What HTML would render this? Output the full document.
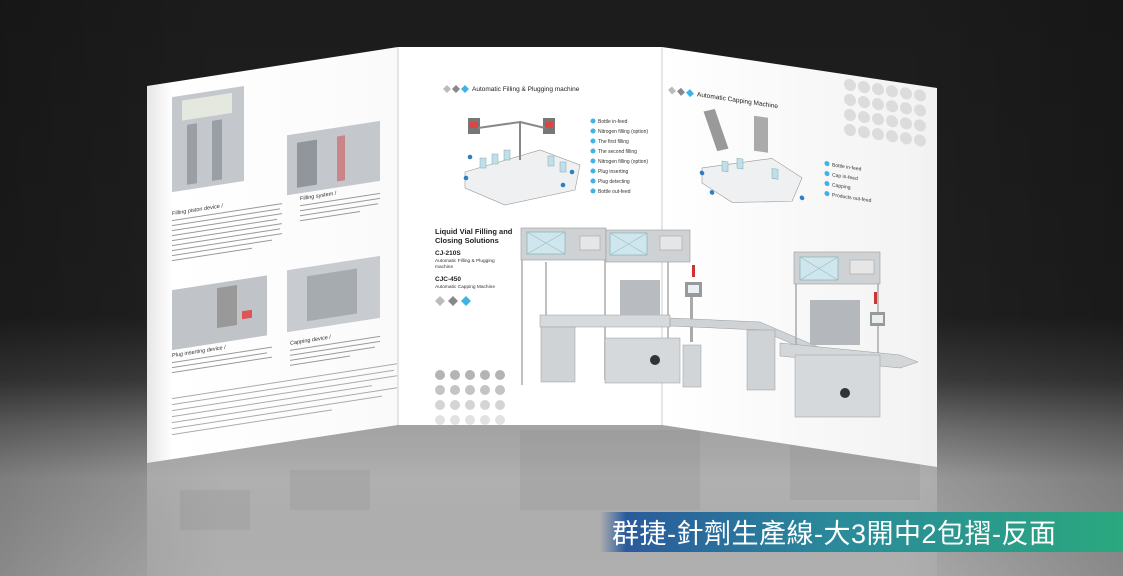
<!DOCTYPE html>
<html><head><meta charset="utf-8"><style>
html,body{margin:0;padding:0;width:1123px;height:576px;overflow:hidden;background:#222}
svg{display:block}
text{font-family:"Liberation Sans",sans-serif}
</style></head><body>
<svg width="1123" height="576" viewBox="0 0 1123 576" xmlns="http://www.w3.org/2000/svg">
<defs>
<linearGradient id="bg" x1="0" y1="0" x2="0" y2="1">
<stop offset="0" stop-color="#1c1c1c"/><stop offset="0.55" stop-color="#202020"/>
<stop offset="0.66" stop-color="#3c3c3c"/><stop offset="0.74" stop-color="#6e6e6e"/><stop offset="0.83" stop-color="#9c9c9c"/><stop offset="1" stop-color="#ababab"/>
</linearGradient>
<linearGradient id="side" x1="0" y1="0" x2="1" y2="0">
<stop offset="0" stop-color="#000" stop-opacity="0.2"/><stop offset="0.2" stop-color="#000" stop-opacity="0"/>
<stop offset="0.8" stop-color="#000" stop-opacity="0"/><stop offset="1" stop-color="#000" stop-opacity="0.2"/>
</linearGradient>
<linearGradient id="refl" x1="0" y1="0" x2="0" y2="1">
<stop offset="0" stop-color="#d0d0d0" stop-opacity="0.55"/><stop offset="1" stop-color="#c0c0c0" stop-opacity="0.2"/>
</linearGradient>
<linearGradient id="ban" x1="0" y1="0" x2="1" y2="0">
<stop offset="0" stop-color="#2a5aa0" stop-opacity="0"/><stop offset="0.05" stop-color="#2a5a9c"/>
<stop offset="0.45" stop-color="#2a8a9a"/><stop offset="1" stop-color="#2aa87e"/>
</linearGradient>
<linearGradient id="lp" x1="0" y1="0" x2="1" y2="0">
<stop offset="0" stop-color="#e6e6e6"/><stop offset="0.1" stop-color="#fff"/><stop offset="1" stop-color="#fafafa"/>
</linearGradient>
<linearGradient id="rp" x1="0" y1="0" x2="1" y2="0">
<stop offset="0" stop-color="#fff"/><stop offset="1" stop-color="#f2f2f2"/>
</linearGradient>
</defs>
<rect width="1123" height="576" fill="url(#bg)"/>
<rect width="1123" height="576" fill="url(#side)"/>

<!-- reflections -->
<polygon points="147,463 398,425 662,425 937,467 937,576 147,576" fill="url(#refl)"/>
<g opacity="0.15" fill="#777">
<rect x="520" y="430" width="180" height="80"/><rect x="790" y="440" width="130" height="60"/>
<rect x="180" y="490" width="70" height="40"/><rect x="290" y="470" width="80" height="40"/>
</g>

<!-- panels -->
<polygon points="147,86 398,47 398,425 147,463" fill="url(#lp)"/>
<polygon points="398,47 662,47 662,425 398,425" fill="#fff"/>
<polygon points="662,47 937,88 937,467 662,425" fill="url(#rp)"/>
<line x1="398" y1="47" x2="398" y2="425" stroke="#ccc" stroke-width="1"/>
<line x1="662" y1="47" x2="662" y2="425" stroke="#ccc" stroke-width="1"/>

<!-- left panel content -->
<g transform="matrix(1,-0.155,0,1,147,86)">
<rect x="25" y="15" width="72" height="95" fill="#c4c8cc"/>
<rect x="35" y="20" width="50" height="20" fill="#e4e8de"/>
<rect x="40" y="45" width="10" height="60" fill="#9a9fa5"/><rect x="65" y="45" width="10" height="60" fill="#9a9fa5"/>
<rect x="140" y="71" width="93" height="60" fill="#c4c8cc"/>
<rect x="150" y="80" width="20" height="45" fill="#90969b"/><rect x="190" y="80" width="8" height="45" fill="#c44" opacity=".5"/>
<text x="25" y="133" font-size="5.5" fill="#333">Filling piston device /</text>
<g fill="#999"><rect x="25" y="138" width="110" height="1"/><rect x="25" y="143" width="108" height="1"/><rect x="25" y="148" width="110" height="1"/><rect x="25" y="153" width="105" height="1"/><rect x="25" y="158" width="110" height="1"/><rect x="25" y="163" width="108" height="1"/><rect x="25" y="168" width="110" height="1"/><rect x="25" y="173" width="100" height="1"/><rect x="25" y="178" width="80" height="1"/></g>
<text x="153" y="138" font-size="5.5" fill="#333">Filling system /</text>
<g fill="#999"><rect x="153" y="143" width="80" height="1"/><rect x="153" y="148" width="80" height="1"/><rect x="153" y="153" width="78" height="1"/><rect x="153" y="158" width="60" height="1"/></g>
<rect x="25" y="208" width="95" height="60" fill="#c0c4c8"/>
<rect x="70" y="213" width="20" height="40" fill="#999"/><rect x="95" y="240" width="10" height="8" fill="#d55"/>
<rect x="140" y="206" width="93" height="62" fill="#c8ccd0"/>
<rect x="160" y="215" width="50" height="45" fill="#a6abb0"/>
<text x="25" y="275" font-size="5.5" fill="#333">Plug inserting device /</text>
<g fill="#999"><rect x="25" y="280" width="100" height="1"/><rect x="25" y="285" width="95" height="1"/><rect x="25" y="290" width="100" height="1"/></g>
<text x="143" y="281" font-size="5.5" fill="#333">Capping device /</text>
<g fill="#999"><rect x="143" y="286" width="90" height="1"/><rect x="143" y="291" width="90" height="1"/><rect x="143" y="296" width="85" height="1"/><rect x="143" y="301" width="60" height="1"/></g>
<g fill="#aaa"><rect x="25" y="316" width="225" height="1"/><rect x="25" y="322" width="222" height="1"/><rect x="25" y="328" width="225" height="1"/><rect x="25" y="334" width="200" height="1"/><rect x="25" y="340" width="225" height="1"/><rect x="25" y="346" width="210" height="1"/><rect x="25" y="352" width="160" height="1"/></g>
</g>

<!-- middle panel content -->
<g>
<polygon points="447,85 451,89 447,93 443,89" fill="#bbb"/>
<polygon points="456,85 460,89 456,93 452,89" fill="#888"/>
<polygon points="465,85 469,89 465,93 461,89" fill="#3fb3e6"/>
<text x="472" y="91" font-size="6.5" fill="#222">Automatic Filling &amp; Plugging machine</text>
<polygon points="465,172 540,150 580,165 575,190 505,205 465,188" fill="#eef0f2" stroke="#999" stroke-width="0.6"/>
<rect x="468" y="118" width="12" height="16" fill="#777"/><rect x="470" y="122" width="8" height="6" fill="#d44"/>
<rect x="543" y="118" width="12" height="16" fill="#777"/><rect x="545" y="122" width="8" height="6" fill="#d44"/>
<path d="M478,128 L520,122 L520,160 M520,122 L545,128" stroke="#888" stroke-width="2" fill="none"/>
<g fill="#bfe0ea" stroke="#8aa" stroke-width=".5"><rect x="480" y="158" width="6" height="10"/><rect x="492" y="154" width="6" height="10"/><rect x="504" y="150" width="6" height="10"/><rect x="548" y="156" width="6" height="10"/><rect x="560" y="162" width="6" height="10"/></g>
<g fill="#2d7fc1"><circle cx="466" cy="178" r="2.3"/><circle cx="470" cy="157" r="2.3"/><circle cx="563" cy="185" r="2.3"/><circle cx="572" cy="172" r="2.3"/></g>
<g font-size="5" fill="#333">
<circle cx="593" cy="121" r="2.5" fill="#3fb3e6"/><text x="598" y="123">Bottle in-feed</text>
<circle cx="593" cy="131" r="2.5" fill="#3fb3e6"/><text x="598" y="133">Nitrogen filling (option)</text>
<circle cx="593" cy="141" r="2.5" fill="#3fb3e6"/><text x="598" y="143">The first filling</text>
<circle cx="593" cy="151" r="2.5" fill="#3fb3e6"/><text x="598" y="153">The second filling</text>
<circle cx="593" cy="161" r="2.5" fill="#3fb3e6"/><text x="598" y="163">Nitrogen filling (option)</text>
<circle cx="593" cy="171" r="2.5" fill="#3fb3e6"/><text x="598" y="173">Plug inserting</text>
<circle cx="593" cy="181" r="2.5" fill="#3fb3e6"/><text x="598" y="183">Plug detecting</text>
<circle cx="593" cy="191" r="2.5" fill="#3fb3e6"/><text x="598" y="193">Bottle out-feed</text>
</g>
<text x="435" y="234" font-size="7.5" font-weight="bold" fill="#222">Liquid Vial Filling and</text>
<text x="435" y="243" font-size="7.5" font-weight="bold" fill="#222">Closing Solutions</text>
<text x="435" y="255" font-size="6.5" font-weight="bold" fill="#222">CJ-210S</text>
<text x="435" y="262" font-size="4.8" fill="#333">Automatic Filling &amp; Plugging</text>
<text x="435" y="268" font-size="4.8" fill="#333">machine</text>
<text x="435" y="281" font-size="6.5" font-weight="bold" fill="#222">CJC-450</text>
<text x="435" y="288" font-size="4.8" fill="#333">Automatic Capping Machine</text>
<polygon points="440,296 445,301 440,306 435,301" fill="#bbb"/>
<polygon points="453,296 458,301 453,306 448,301" fill="#888"/>
<polygon points="466,296 471,301 466,306 461,301" fill="#3fb3e6"/>
<g fill="#b4b4b4">
<circle cx="440" cy="375" r="5"/><circle cx="455" cy="375" r="5"/><circle cx="470" cy="375" r="5"/><circle cx="485" cy="375" r="5"/><circle cx="500" cy="375" r="5"/>
</g>
<g fill="#c4c4c4">
<circle cx="440" cy="390" r="5"/><circle cx="455" cy="390" r="5"/><circle cx="470" cy="390" r="5"/><circle cx="485" cy="390" r="5"/><circle cx="500" cy="390" r="5"/>
</g>
<g fill="#d4d4d4">
<circle cx="440" cy="405" r="5"/><circle cx="455" cy="405" r="5"/><circle cx="470" cy="405" r="5"/><circle cx="485" cy="405" r="5"/><circle cx="500" cy="405" r="5"/>
</g>
<g fill="#e2e2e2">
<circle cx="440" cy="420" r="5"/><circle cx="455" cy="420" r="5"/><circle cx="470" cy="420" r="5"/><circle cx="485" cy="420" r="5"/><circle cx="500" cy="420" r="5"/>
</g>
</g>

<!-- machines -->
<g>
<rect x="521" y="228" width="85" height="32" fill="#cfd2d5" stroke="#999" stroke-width=".6"/>
<rect x="527" y="232" width="38" height="22" fill="#cfe6ef" stroke="#7aa" stroke-width=".6"/>
<path d="M527,232 L565,254 M565,232 L527,254" stroke="#9bb" stroke-width=".6"/>
<rect x="580" y="236" width="20" height="14" fill="#e6e6e6" stroke="#999" stroke-width=".5"/>
<rect x="606" y="230" width="84" height="32" fill="#cfd2d5" stroke="#999" stroke-width=".6"/>
<rect x="610" y="233" width="37" height="22" fill="#cfe6ef" stroke="#7aa" stroke-width=".6"/>
<path d="M610,233 L647,255 M647,233 L610,255" stroke="#9bb" stroke-width=".6"/>
<rect x="660" y="236" width="22" height="14" fill="#e6e6e6" stroke="#999" stroke-width=".5"/>
<g stroke="#aaa" stroke-width="1.5"><line x1="522" y1="260" x2="522" y2="385"/><line x1="546" y1="262" x2="546" y2="370"/><line x1="605" y1="260" x2="605" y2="380"/><line x1="668" y1="262" x2="668" y2="345"/></g>
<rect x="540" y="315" width="130" height="12" fill="#d7dadc" stroke="#999" stroke-width=".5"/>
<rect x="541" y="327" width="34" height="55" fill="#d0d3d6" stroke="#999" stroke-width=".5"/>
<rect x="605" y="338" width="75" height="45" fill="#d6d9dc" stroke="#999" stroke-width=".5"/>
<circle cx="655" cy="360" r="5" fill="#333"/>
<rect x="620" y="280" width="40" height="35" fill="#b8bcc0"/>
<rect x="685" y="282" width="17" height="15" fill="#999"/><rect x="688" y="285" width="11" height="8" fill="#e8f0f4"/>
<rect x="692" y="265" width="3" height="12" fill="#c33"/>
<rect x="690" y="297" width="3" height="45" fill="#aaa"/>
<rect x="683" y="345" width="18" height="42" fill="#d2d5d8" stroke="#999" stroke-width=".5"/>
<polygon points="670,318 760,322 830,352 830,360 760,330 670,326" fill="#cfd3d6" stroke="#999" stroke-width=".5"/>
<rect x="747" y="330" width="28" height="60" fill="#d0d3d6" stroke="#999" stroke-width=".5"/>
<rect x="794" y="252" width="86" height="32" fill="#cfd2d5" stroke="#999" stroke-width=".6"/>
<rect x="800" y="257" width="38" height="23" fill="#cfe6ef" stroke="#7aa" stroke-width=".6"/>
<path d="M800,257 L838,280 M838,257 L800,280" stroke="#9bb" stroke-width=".6"/>
<rect x="850" y="260" width="24" height="14" fill="#e6e6e6" stroke="#999" stroke-width=".5"/>
<g stroke="#aaa" stroke-width="1.5"><line x1="796" y1="284" x2="796" y2="370"/><line x1="878" y1="284" x2="878" y2="370"/></g>
<rect x="810" y="300" width="50" height="45" fill="#b4b8bc"/>
<rect x="870" y="312" width="15" height="14" fill="#999"/><rect x="872" y="315" width="11" height="8" fill="#e8f0f4"/>
<rect x="874" y="292" width="3" height="12" fill="#c33"/>
<polygon points="780,343 900,355 918,362 900,368 780,356" fill="#d4d7da" stroke="#999" stroke-width=".5"/>
<rect x="795" y="355" width="85" height="62" fill="#d6d9dc" stroke="#999" stroke-width=".5"/>
<circle cx="845" cy="393" r="5" fill="#333"/>
</g>

<!-- right panel content -->
<g transform="matrix(1,0.149,0,1,662,47)">
<polygon points="10,38 14,42 10,46 6,42" fill="#bbb"/>
<polygon points="19,38 23,42 19,46 15,42" fill="#888"/>
<polygon points="28,38 32,42 28,46 24,42" fill="#3fb3e6"/>
<text x="35" y="44" font-size="6.5" fill="#222">Automatic Capping Machine</text>
<g fill="#dcdcdc">
<circle cx="188" cy="10" r="6"/><circle cx="202" cy="10" r="6"/><circle cx="216" cy="10" r="6"/><circle cx="230" cy="10" r="6"/><circle cx="244" cy="10" r="6"/><circle cx="258" cy="10" r="6"/>
<circle cx="188" cy="25" r="6"/><circle cx="202" cy="25" r="6"/><circle cx="216" cy="25" r="6"/><circle cx="230" cy="25" r="6"/><circle cx="244" cy="25" r="6"/><circle cx="258" cy="25" r="6"/>
<circle cx="188" cy="40" r="6"/><circle cx="202" cy="40" r="6"/><circle cx="216" cy="40" r="6"/><circle cx="230" cy="40" r="6"/><circle cx="244" cy="40" r="6"/><circle cx="258" cy="40" r="6"/>
<circle cx="188" cy="55" r="6"/><circle cx="202" cy="55" r="6"/><circle cx="216" cy="55" r="6"/><circle cx="230" cy="55" r="6"/><circle cx="244" cy="55" r="6"/><circle cx="258" cy="55" r="6"/>
</g>
<rect x="48" y="55" width="12" height="40" fill="#999" transform="rotate(-20 54 75)"/>
<rect x="92" y="55" width="14" height="35" fill="#aaa"/>
<polygon points="40,115 110,95 140,110 130,135 70,145 40,130" fill="#eef0f2" stroke="#999" stroke-width=".6"/>
<g fill="#bfe0ea" stroke="#8aa" stroke-width=".5"><rect x="60" y="105" width="6" height="10"/><rect x="75" y="100" width="6" height="10"/><rect x="110" y="105" width="6" height="10"/></g>
<g fill="#2d7fc1"><circle cx="40" cy="120" r="2.3"/><circle cx="50" cy="138" r="2.3"/><circle cx="140" cy="130" r="2.3"/></g>
<g font-size="5" fill="#333">
<circle cx="165" cy="92" r="2.5" fill="#3fb3e6"/><text x="170" y="94">Bottle in-feed</text>
<circle cx="165" cy="102" r="2.5" fill="#3fb3e6"/><text x="170" y="104">Cap in-feed</text>
<circle cx="165" cy="112" r="2.5" fill="#3fb3e6"/><text x="170" y="114">Capping</text>
<circle cx="165" cy="122" r="2.5" fill="#3fb3e6"/><text x="170" y="124">Products out-feed</text>
</g>
</g>

<!-- banner -->
<rect x="600" y="512" width="523" height="40" fill="url(#ban)"/>
<text x="612" y="543" font-size="27" fill="#fff" style="font-family:'Liberation Sans','Noto Sans CJK TC',sans-serif;letter-spacing:0.5px">群捷-針劑生產線-大3開中2包摺-反面</text>
</svg>
</body></html>
